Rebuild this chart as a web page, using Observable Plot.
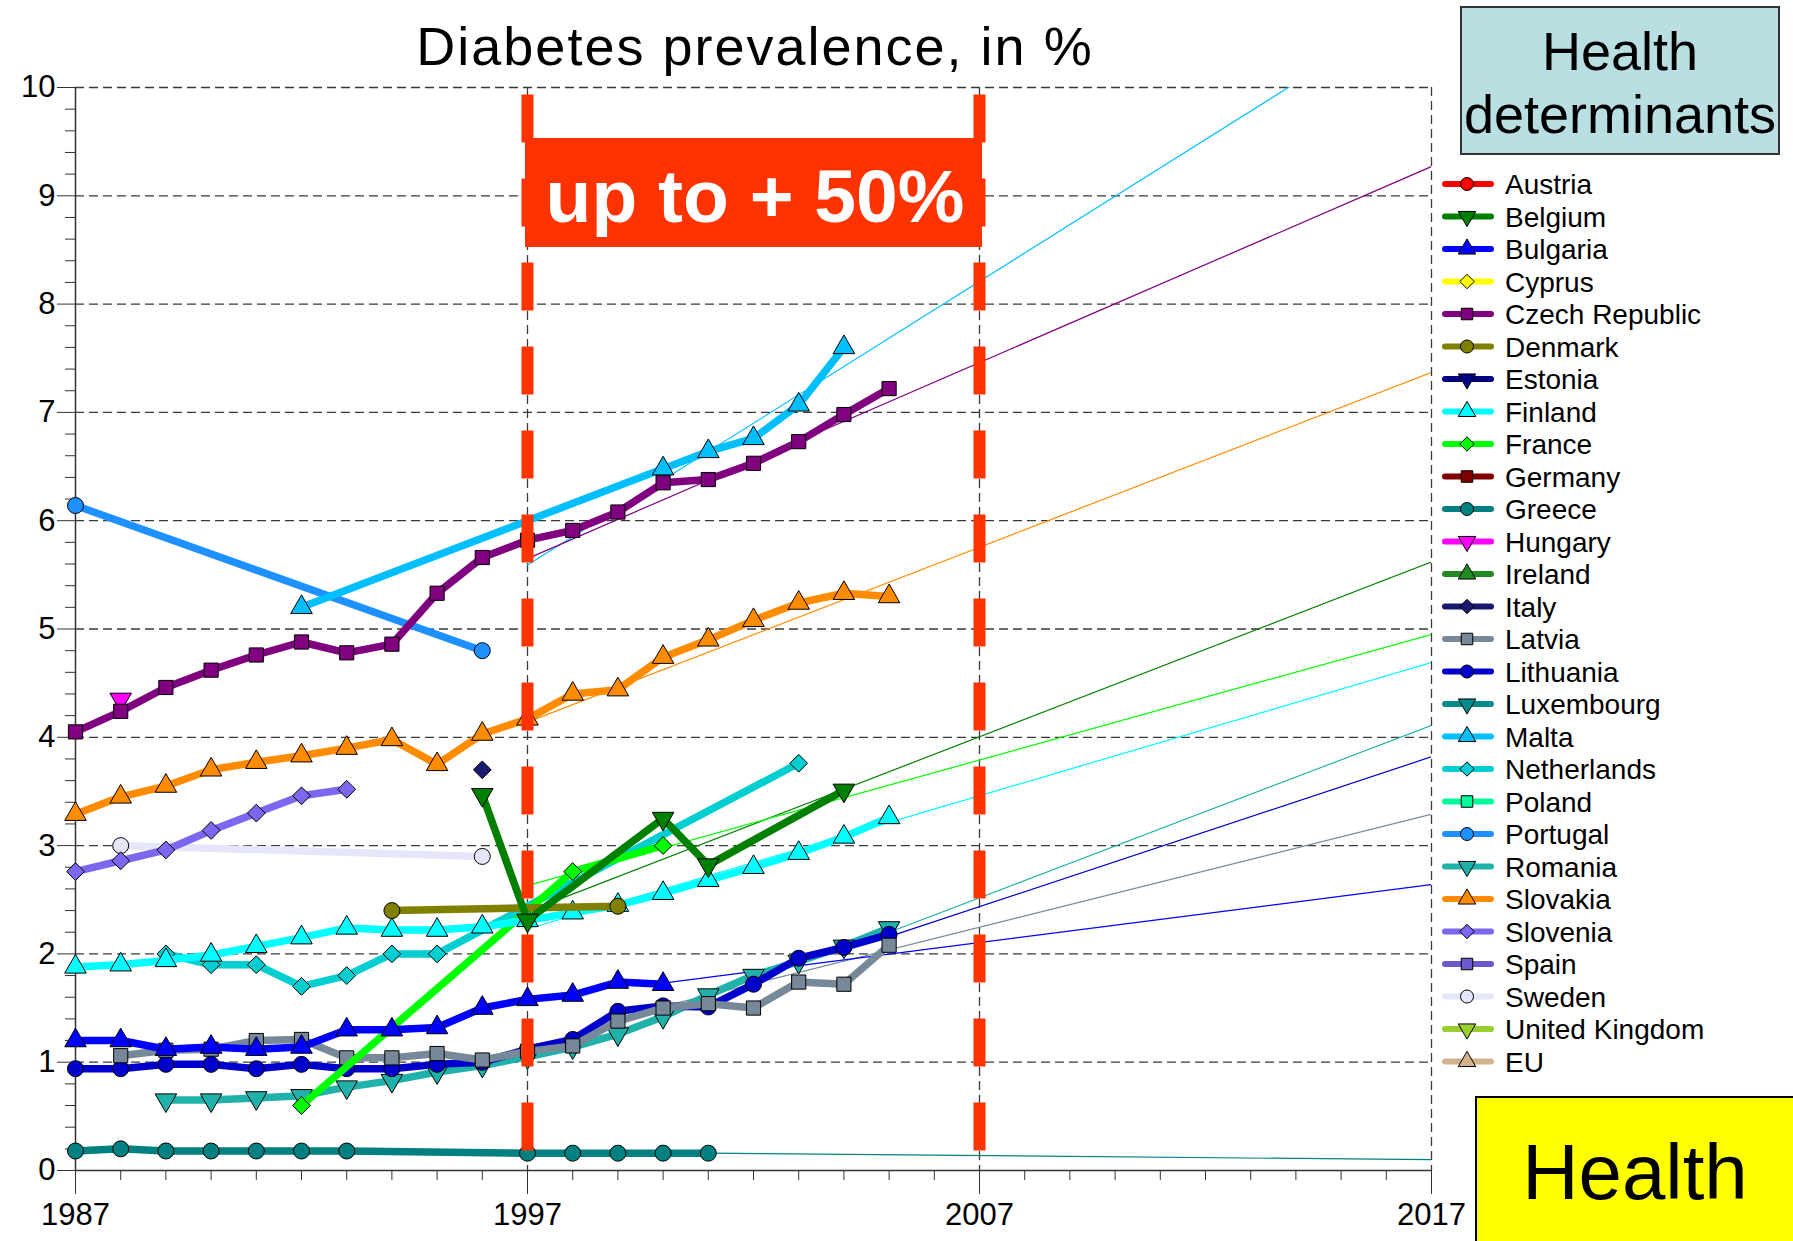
<!DOCTYPE html>
<html><head><meta charset="utf-8">
<script src="https://cdn.jsdelivr.net/npm/d3@7"></script>
<script src="https://cdn.jsdelivr.net/npm/@observablehq/plot@0.6"></script>
<style>
body{margin:0;background:#fff;}
#wrap{position:relative;width:1793px;height:1241px;overflow:hidden;background:#fff;}
</style></head><body><div id="wrap"></div>
<script>
// ---- axis ticks ----
const xTicks = [1987, 1997, 2007, 2017];
const yTicks = [0, 1, 2, 3, 4, 5, 6, 7, 8, 9, 10];
const highlightYears = [1997, 2007];

// ---- legend (order, colours, markers) ----
const countries = ["Austria","Belgium","Bulgaria","Cyprus","Czech Republic","Denmark","Estonia","Finland","France","Germany","Greece","Hungary","Ireland","Italy","Latvia","Lithuania","Luxembourg","Malta","Netherlands","Poland","Portugal","Romania","Slovakia","Slovenia","Spain","Sweden","United Kingdom","EU"];
const colors = ["#ff0000","#008000","#0000ff","#ffff00","#800080","#808000","#000080","#00ffff","#00ff00","#800000","#008080","#ff00ff","#228b22","#191970","#778899","#0000cd","#008b8b","#00bfff","#00ced1","#00fa9a","#1e90ff","#20b2aa","#ff8c00","#7b68ee","#6a5acd","#e6e6fa","#9acd32","#d2b48c"];
const symbols = ["circle","triangle","triangle","diamond2","square","circle","triangle","triangle","diamond2","square","circle","triangle","triangle","diamond2","square","circle","triangle","triangle","diamond2","square","circle","triangle","triangle","diamond2","square","circle","triangle","triangle"];
const pointsDown = ["Belgium","Estonia","Hungary","Luxembourg","Romania","United Kingdom"];

// ---- series values [year, %] ----
const belgium = [[1996,3.47],[1997,2.31],[2000,3.25],[2001,2.82],[2004,3.51]];
const bulgaria = [[1987,1.2],[1988,1.2],[1989,1.12],[1990,1.14],[1991,1.12],[1992,1.14],[1993,1.3],[1994,1.3],[1995,1.32],[1996,1.5],[1997,1.58],[1998,1.62],[1999,1.74],[2000,1.72]];
const czechRepublic = [[1987,4.05],[1988,4.24],[1989,4.46],[1990,4.62],[1991,4.76],[1992,4.88],[1993,4.78],[1994,4.86],[1995,5.33],[1996,5.66],[1997,5.82],[1998,5.91],[1999,6.08],[2000,6.35],[2001,6.38],[2002,6.53],[2003,6.73],[2004,6.98],[2005,7.22]];
const denmark = [[1994,2.4],[1999,2.44]];
const finland = [[1987,1.88],[1988,1.9],[1989,1.94],[1990,1.99],[1991,2.07],[1992,2.15],[1993,2.24],[1994,2.22],[1995,2.22],[1996,2.25],[1997,2.31],[1998,2.38],[1999,2.45],[2000,2.56],[2001,2.68],[2002,2.8],[2003,2.93],[2004,3.08],[2005,3.26]];
const france = [[1992,0.6],[1998,2.76],[2000,3.0]];
const greece = [[1987,0.18],[1988,0.2],[1989,0.18],[1990,0.18],[1991,0.18],[1992,0.18],[1993,0.18],[1997,0.16],[1998,0.16],[1999,0.16],[2000,0.16],[2001,0.16]];
const hungary = [[1988,4.35]];
const italy = [[1996,3.7]];
const latvia = [[1988,1.06],[1989,1.11],[1990,1.12],[1991,1.2],[1992,1.21],[1993,1.04],[1994,1.04],[1995,1.08],[1996,1.02],[1997,1.1],[1998,1.15],[1999,1.38],[2000,1.5],[2001,1.54],[2002,1.5],[2003,1.74],[2004,1.72],[2005,2.08]];
const lithuania = [[1987,0.94],[1988,0.94],[1989,0.98],[1990,0.98],[1991,0.94],[1992,0.98],[1993,0.94],[1994,0.94],[1995,0.98],[1996,1.0],[1997,1.12],[1998,1.21],[1999,1.47],[2000,1.52],[2001,1.51],[2002,1.72],[2003,1.96],[2004,2.06],[2005,2.18]];
const malta = [[1992,5.2],[2000,6.48],[2001,6.64],[2002,6.76],[2003,7.07],[2004,7.6]];
const netherlands = [[1989,2.0],[1990,1.9],[1991,1.9],[1992,1.7],[1993,1.8],[1994,2.0],[1995,2.0],[2003,3.76]];
const portugal = [[1987,6.14],[1996,4.8]];
const romania = [[1989,0.65],[1990,0.65],[1991,0.67],[1992,0.69],[1993,0.77],[1994,0.83],[1995,0.91],[1996,0.97],[1997,1.05],[1998,1.14],[1999,1.26],[2000,1.42],[2001,1.62],[2002,1.8],[2003,1.93],[2004,2.07],[2005,2.24]];
const slovakia = [[1987,3.29],[1988,3.45],[1989,3.55],[1990,3.7],[1991,3.77],[1992,3.83],[1993,3.9],[1994,3.98],[1995,3.75],[1996,4.03],[1997,4.17],[1998,4.4],[1999,4.44],[2000,4.74],[2001,4.9],[2002,5.08],[2003,5.24],[2004,5.33],[2005,5.3]];
const slovenia = [[1987,2.76],[1988,2.86],[1989,2.96],[1990,3.14],[1991,3.3],[1992,3.46],[1993,3.52]];
const sweden = [[1988,3.0],[1996,2.9]];

// ---- thin trend lines (end points) ----
const maltaTrend = [[1997,5.59],[2017,10.83]];
const czechTrend = [[1997,5.65],[2017,9.27]];
const slovakiaTrend = [[1997,4.14],[2017,7.37]];
const belgiumTrend = [[1997,2.39],[2017,5.62]];
const franceTrend = [[1997,2.63],[2017,4.95]];
const finlandTrend = [[1997,2.23],[2017,4.69]];
const romaniaTrend = [[2005,2.2],[2017,4.11]];
const lithuaniaTrend = [[2005,2.16],[2017,3.82]];
const latviaTrend = [[1999,1.41],[2017,3.29]];
const bulgariaTrend = [[2000,1.73],[2017,2.64]];
const greeceTrend = [[2001,0.16],[2017,0.1]];

// ---- tables built from the arrays ----
const seriesByCountry = {
  "Belgium": belgium, "Bulgaria": bulgaria, "Czech Republic": czechRepublic, "Denmark": denmark,
  "Finland": finland, "France": france, "Greece": greece, "Hungary": hungary, "Italy": italy,
  "Latvia": latvia, "Lithuania": lithuania, "Malta": malta, "Netherlands": netherlands,
  "Portugal": portugal, "Romania": romania, "Slovakia": slovakia, "Slovenia": slovenia, "Sweden": sweden
};
const trendByCountry = {
  "Malta": maltaTrend, "Czech Republic": czechTrend, "Slovakia": slovakiaTrend, "Belgium": belgiumTrend,
  "France": franceTrend, "Finland": finlandTrend, "Romania": romaniaTrend, "Lithuania": lithuaniaTrend,
  "Latvia": latviaTrend, "Bulgaria": bulgariaTrend, "Greece": greeceTrend
};
const colorOf = c => colors[countries.indexOf(c)];
const symbolOf = c => symbols[countries.indexOf(c)];
const rotOf = c => pointsDown.includes(c) ? 180 : 0;

const xMinor = d3.range(1987, 2018);
const yMinor = d3.range(0, 50).map(i => i / 5).filter(v => !Number.isInteger(v));

const gridStyle = {stroke: "#3a3a3a", strokeOpacity: 1, strokeWidth: 1.3, strokeDasharray: "9,5"};
const R = 8;

const trendMarks = Object.entries(trendByCountry).map(([c, pts]) =>
  Plot.line(pts, {x: d => d[0], y: d => d[1], stroke: colorOf(c), strokeWidth: 1.2, clip: true}));

const seriesMarks = [];
[...countries].reverse().forEach(c => {
  const data = seriesByCountry[c];
  if (!data) return;
  seriesMarks.push(Plot.line(data, {x: d => d[0], y: d => d[1], stroke: colorOf(c), strokeWidth: 7.5, strokeLinejoin: "round", strokeLinecap: "round"}));
  seriesMarks.push(Plot.dot(data, {x: d => d[0], y: d => d[1], fill: colorOf(c), stroke: "#000", strokeWidth: 1, r: R, symbol: symbolOf(c), rotate: rotOf(c)}));
});

const W = 1793, H = 1241;
const chart = Plot.plot({
  width: W, height: H,
  marginLeft: 75, marginRight: W - 1431, marginTop: 87, marginBottom: H - 1170,
  style: {fontFamily: '"Liberation Sans", Arial, sans-serif', fontSize: "30px", background: "#fff", color: "#000"},
  x: {domain: [1987, 2017]},
  y: {domain: [0, 10]},
  marks: [
    Plot.gridY(yTicks.filter(v => v > 0), gridStyle),
    Plot.gridX(xTicks.filter(v => v > 1987), gridStyle),
    Plot.axisY(yMinor, {anchor: "left", tickSize: 10, fill: null, label: null, stroke: "#333"}),
    Plot.axisY(yTicks, {anchor: "left", tickSize: 18, tickPadding: 2, fontSize: 31, label: null, stroke: "#333", fill: "#000", tickFormat: d => String(d)}),
    Plot.axisX(xMinor, {anchor: "bottom", tickSize: 10, fill: null, label: null, stroke: "#333"}),
    Plot.axisX(xTicks, {anchor: "bottom", tickSize: 24, tickPadding: 8, fontSize: 31, label: null, stroke: "#333", fill: "#000", tickFormat: d => String(d)}),
    Plot.ruleX([1987], {stroke: "#333", strokeWidth: 1.5}),
    Plot.ruleY([0], {stroke: "#333", strokeWidth: 1.5}),
    ...trendMarks,
    ...seriesMarks,
    Plot.ruleX(highlightYears, {y1: 9.93, y2: 0.18, stroke: "#ff3300", strokeWidth: 12, strokeDasharray: "48,36"})
  ]
});

document.getElementById("wrap").appendChild(chart);
const svg = d3.select(chart);
const font = '"Liberation Sans", Arial, sans-serif';

// title
svg.append("text").attr("x", 755).attr("y", 65).attr("text-anchor", "middle")
  .attr("font-family", font).attr("font-size", 54).attr("letter-spacing", "2px").attr("fill", "#000")
  .text("Diabetes prevalence, in %");

// red annotation box
svg.append("rect").attr("x", 525).attr("y", 138).attr("width", 457).attr("height", 109).attr("fill", "#ff3300");
svg.append("text").attr("x", 755).attr("y", 222).attr("text-anchor", "middle")
  .attr("font-family", font).attr("font-size", 75).attr("font-weight", "bold").attr("fill", "#fff")
  .text("up to + 50%");

// "Health determinants" box
svg.append("rect").attr("x", 1461).attr("y", 7).attr("width", 318).attr("height", 147)
  .attr("fill", "#b9dfe3").attr("stroke", "#333").attr("stroke-width", 2);
svg.append("text").attr("x", 1620).attr("y", 70).attr("text-anchor", "middle")
  .attr("font-family", font).attr("font-size", 54).attr("fill", "#000").text("Health");
svg.append("text").attr("x", 1620).attr("y", 133).attr("text-anchor", "middle")
  .attr("font-family", font).attr("font-size", 54).attr("fill", "#000").text("determinants");

// "Health" yellow box
svg.append("rect").attr("x", 1476).attr("y", 1097).attr("width", 330).attr("height", 150)
  .attr("fill", "#ffff00").attr("stroke", "#000").attr("stroke-width", 2);
svg.append("text").attr("x", 1635).attr("y", 1199).attr("text-anchor", "middle")
  .attr("font-family", font).attr("font-size", 78).attr("fill", "#000").text("Health");

// legend
const symMap = {circle: d3.symbolCircle, square: d3.symbolSquare, diamond2: d3.symbolDiamond2, triangle: d3.symbolTriangle};
const lg = svg.append("g").attr("text-anchor", "start");
countries.forEach((c, i) => {
  const y = 184 + i * 32.5;
  lg.append("line").attr("x1", 1445).attr("x2", 1491).attr("y1", y).attr("y2", y)
    .attr("stroke", colors[i]).attr("stroke-width", 6).attr("stroke-linecap", "round");
  lg.append("path").attr("d", d3.symbol(symMap[symbols[i]], Math.PI * 6.5 * 6.5)())
    .attr("transform", `translate(1467,${y}) rotate(${rotOf(c)})`)
    .attr("fill", colors[i]).attr("stroke", "#000").attr("stroke-width", 1);
  lg.append("text").attr("x", 1505).attr("y", y + 10).attr("text-anchor", "start")
    .attr("font-family", font).attr("font-size", 28).attr("fill", "#000").text(c);
});
</script></body></html>
